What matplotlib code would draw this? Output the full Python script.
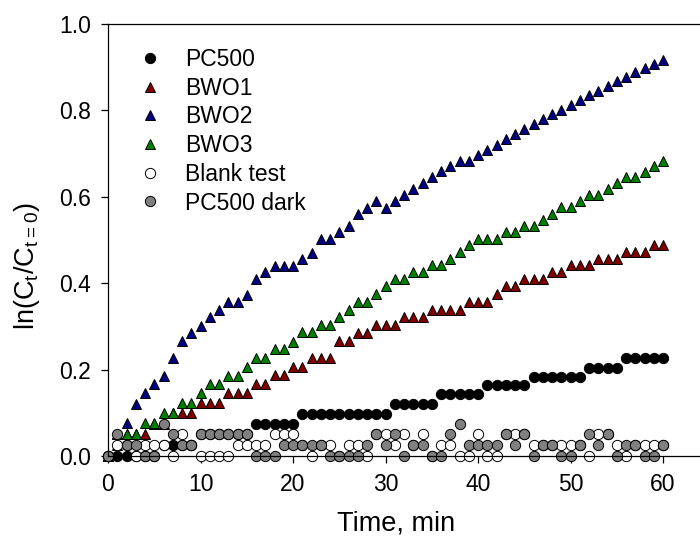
import matplotlib
matplotlib.use("Agg")
import matplotlib.pyplot as plt

plt.rcParams['font.family'] = ['Liberation Sans', 'DejaVu Sans']

# time axis, min
minutes = list(range(0, 61))

pc500 = [0, 0, 0, 0, 0, 0, 0.025, 0.025, 0.025, 0.025,
         0.05, 0.05, 0.05, 0.05, 0.05, 0.05, 0.074, 0.074, 0.074, 0.074,
         0.074, 0.098, 0.098, 0.098, 0.098, 0.098, 0.098, 0.098, 0.098, 0.098,
         0.098, 0.120, 0.120, 0.120, 0.120, 0.120, 0.143, 0.143, 0.143, 0.143,
         0.143, 0.164, 0.164, 0.164, 0.164, 0.164, 0.182, 0.182, 0.182, 0.182,
         0.182, 0.182, 0.204, 0.204, 0.204, 0.204, 0.226, 0.226, 0.226, 0.226,
         0.226]

bwo1 = [0, 0.025, 0.05, 0.05, 0.051, 0.075, 0.075, 0.099, 0.099, 0.099,
        0.123, 0.123, 0.123, 0.145, 0.145, 0.145, 0.166, 0.166, 0.187, 0.187,
        0.206, 0.206, 0.228, 0.228, 0.228, 0.267, 0.267, 0.285, 0.285, 0.303,
        0.303, 0.303, 0.322, 0.322, 0.322, 0.339, 0.339, 0.339, 0.339, 0.357,
        0.357, 0.357, 0.376, 0.393, 0.393, 0.409, 0.409, 0.409, 0.425, 0.425,
        0.441, 0.441, 0.441, 0.456, 0.456, 0.456, 0.472, 0.472, 0.472, 0.488,
        0.488]

bwo2 = [0, 0.05, 0.076, 0.120, 0.145, 0.166, 0.185, 0.226, 0.266, 0.285,
        0.302, 0.321, 0.339, 0.356, 0.356, 0.373, 0.409, 0.425, 0.439, 0.439,
        0.439, 0.455, 0.471, 0.503, 0.503, 0.519, 0.532, 0.561, 0.575, 0.590,
        0.575, 0.590, 0.604, 0.618, 0.632, 0.646, 0.659, 0.672, 0.684, 0.684,
        0.696, 0.709, 0.721, 0.734, 0.745, 0.757, 0.769, 0.781, 0.791, 0.802,
        0.812, 0.823, 0.835, 0.845, 0.856, 0.867, 0.877, 0.888, 0.899, 0.908,
        0.917]

bwo3 = [0, 0.05, 0.052, 0.052, 0.076, 0.076, 0.099, 0.099, 0.123, 0.123,
        0.145, 0.166, 0.166, 0.186, 0.186, 0.206, 0.227, 0.227, 0.247, 0.247,
        0.264, 0.286, 0.286, 0.303, 0.303, 0.322, 0.339, 0.357, 0.357, 0.376,
        0.393, 0.410, 0.410, 0.425, 0.425, 0.441, 0.441, 0.456, 0.472, 0.488,
        0.503, 0.503, 0.503, 0.519, 0.519, 0.532, 0.532, 0.547, 0.561, 0.576,
        0.576, 0.590, 0.604, 0.604, 0.618, 0.632, 0.646, 0.646, 0.658, 0.672,
        0.682]

blank = [0, 0.025, 0.025, 0, 0.025, 0.025, 0.025, 0, 0.05, 0.025,
         0, 0, 0, 0, 0.025, 0.025, 0.025, 0.025, 0.05, 0.05,
         0.05, 0.025, 0, 0.025, 0.025, 0, 0.025, 0.025, 0, 0.05,
         0.05, 0.025, 0.05, 0.025, 0.05, 0, 0.025, 0.025, 0, 0,
         0.05, 0, 0, 0.05, 0.05, 0.05, 0.025, 0.025, 0.025, 0.025,
         0.025, 0.025, 0, 0.05, 0.05, 0.025, 0, 0.025, 0.025, 0.025,
         0.025]

pc500_dark = [0, 0.05, 0.025, 0.025, 0, 0, 0.075, 0.05, 0.025, 0.025,
              0.05, 0.05, 0.05, 0.05, 0.05, 0.05, 0, 0, 0, 0.025,
              0.025, 0.025, 0.025, 0.025, 0, 0, 0, 0, 0.025, 0.05,
              0.025, 0.05, 0, 0.025, 0.025, 0, 0, 0.05, 0.075, 0.025,
              0.025, 0.025, 0.025, 0.05, 0.025, 0.05, 0, 0.025, 0.025, 0,
              0, 0.025, 0.05, 0.025, 0.05, 0, 0.025, 0.025, 0, 0,
              0.025]

series = [
    (pc500, 'o', 'black', 'PC500'),
    (bwo1, '^', '#800000', 'BWO1'),
    (bwo2, '^', '#000080', 'BWO2'),
    (bwo3, '^', '#008000', 'BWO3'),
    (blank, 'o', 'white', 'Blank test'),
    (pc500_dark, 'o', '#808080', 'PC500 dark'),
]

fig = plt.figure(figsize=(7, 5.41), dpi=100)
ax = fig.add_axes([108 / 700, 1 - 456 / 541, 592 / 700, 432 / 541])

for vals, mk, col, name in series:
    ax.plot(minutes, vals, linestyle='none', marker=mk, ms=7.6 if mk == '^' else 7.4,
            mfc=col, mec='black', mew=0.7, label=name, clip_on=False)

ax.set_xlim(0, 64)
ax.set_ylim(0, 1.0)
ax.set_xticks([0, 10, 20, 30, 40, 50, 60])
ax.set_yticks([0.0, 0.2, 0.4, 0.6, 0.8, 1.0])
ax.set_yticklabels(['0.0', '0.2', '0.4', '0.6', '0.8', '1.0'])
ax.spines['right'].set_visible(False)
for s in ['left', 'bottom', 'top']:
    ax.spines[s].set_linewidth(0.9)
ax.tick_params(axis='both', direction='out', length=5, width=0.9, pad=7, labelsize=16.5)

ax.set_xlabel('Time, min', fontsize=19.5)
ax.set_ylabel('ln(C$_\\mathregular{t}$/C$_\\mathregular{t=0}$)', fontsize=19.5)
ax.xaxis.set_label_coords(0.486, -0.125)
ax.yaxis.set_label_coords(-0.112, 0.44)

ax.legend(loc='upper left', bbox_to_anchor=(0.036, 0.966), frameon=False,
          fontsize=16.5, handlelength=1.0, handletextpad=1.05, labelspacing=0.25,
          borderaxespad=0)

fig.savefig('out.png', dpi=100)
